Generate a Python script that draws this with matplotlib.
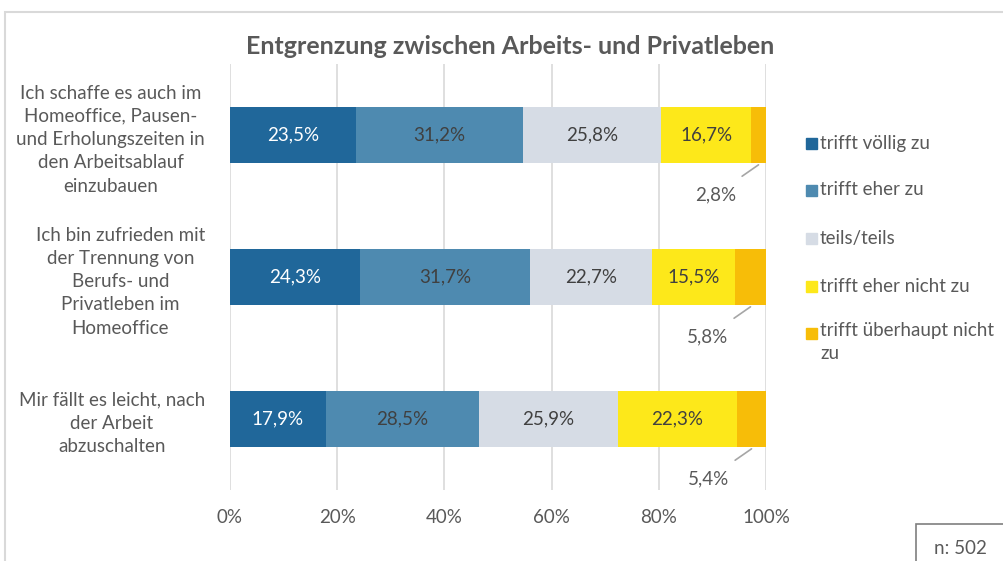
import matplotlib.pyplot as plt
from matplotlib.patches import Rectangle

plt.rcParams['font.family'] = ['Lato', 'DejaVu Sans']

categories = [
    "Ich schaffe es auch im\nHomeoffice, Pausen-\nund Erholungszeiten in\nden Arbeitsablauf\neinzubauen",
    "Ich bin zufrieden mit\nder Trennung von\nBerufs- und\nPrivatleben im\nHomeoffice",
    "Mir fällt es leicht, nach\nder Arbeit\nabzuschalten",
]
series_names = ["trifft völlig zu", "trifft eher zu", "teils/teils",
                "trifft eher nicht zu", "trifft überhaupt nicht\nzu"]
values = [
    [23.5, 24.3, 17.9],
    [31.2, 31.7, 28.5],
    [25.8, 22.7, 25.9],
    [16.7, 15.5, 22.3],
    [2.8, 5.8, 5.4],
]
colors = ["#20679a", "#4e8ab0", "#d6dce5", "#fde81a", "#f7bd08"]
text_colors = ["white", "#404040", "#404040", "#404040", "#404040"]
x_ticks = [0, 20, 40, 60, 80, 100]
grey = "#595959"
fs = 13.5

W, H = 1004, 561
fig = plt.figure(figsize=(W / 100, H / 100), dpi=100)
ax = fig.add_axes([230 / W, 1 - 490 / H, 536 / W, 426 / H])

ypos = list(range(len(categories)))
left = [0.0] * len(categories)
for i, vals in enumerate(values):
    ax.barh(ypos, vals, left=left, height=0.39, color=colors[i], zorder=3)
    for j, v in enumerate(vals):
        label = "{:.1f}%".format(v).replace(".", ",")
        if v > 10:
            ax.text(left[j] + v / 2, j, label, ha="center", va="center",
                    color=text_colors[i], fontsize=fs, zorder=4)
        else:
            # small segment: label below with a leader line
            xe = left[j] + v / 2
            ax.annotate(label, xy=(xe, j + 0.21), xytext=(xe - 8, j + 0.42),
                        ha="center", va="center", color=grey, fontsize=fs,
                        arrowprops=dict(arrowstyle="-", color="#a6a6a6", lw=1.2,
                                        shrinkA=9, shrinkB=0))
    left = [l + v for l, v in zip(left, vals)]

ax.set_xlim(0, 100)
ax.set_ylim(2.5, -0.5)
ax.set_xticks(x_ticks)
ax.set_xticklabels(["{}%".format(t) for t in x_ticks], color=grey, fontsize=fs)
ax.set_yticks(ypos)
ax.set_yticklabels(categories, color=grey, fontsize=fs, ha="right",
                   multialignment="center", linespacing=1.45)
ax.tick_params(axis="y", pad=18, length=0)
ax.tick_params(axis="x", length=0, pad=14)
ax.grid(axis="x", color="#d9d9d9", lw=1.2, zorder=0)
for s in ax.spines.values():
    s.set_visible(False)

fig.text(510 / W, 1 - 46 / H, "Entgrenzung zwischen Arbeits- und Privatleben",
         fontsize=18, fontweight="bold", color=grey, ha="center", va="center")

# legend drawn by hand so the marker sits on the first text line
leg_y = [143, 190, 238, 286, 333]
for name, col, y in zip(series_names, colors, leg_y):
    fig.patches.append(Rectangle((806 / W, 1 - (y + 6) / H), 11 / W, 11 / H,
                                 transform=fig.transFigure, color=col))
    if "\n" in name:
        fig.text(820 / W, 1 - (y - 11) / H, name, ha="left", va="top",
                 color=grey, fontsize=fs, linespacing=1.45)
    else:
        fig.text(820 / W, 1 - y / H, name, ha="left", va="center",
                 color=grey, fontsize=fs)

# outer chart frame
fig.patches.append(Rectangle((5 / W, -0.1), 1.1, 1 - 12 / H + 0.1,
                             transform=fig.transFigure, fill=False,
                             edgecolor="#d9d9d9", lw=1.5))
# sample size box
fig.patches.append(Rectangle((916 / W, -0.1), 0.2, 0.1 + 1 - 524 / H,
                             transform=fig.transFigure, fill=False,
                             edgecolor="#7f7f7f", lw=1.2))
fig.text(960 / W, 1 - 548 / H, "n: 502", ha="center", va="center",
         color=grey, fontsize=fs)

fig.savefig("out.png", dpi=100)
